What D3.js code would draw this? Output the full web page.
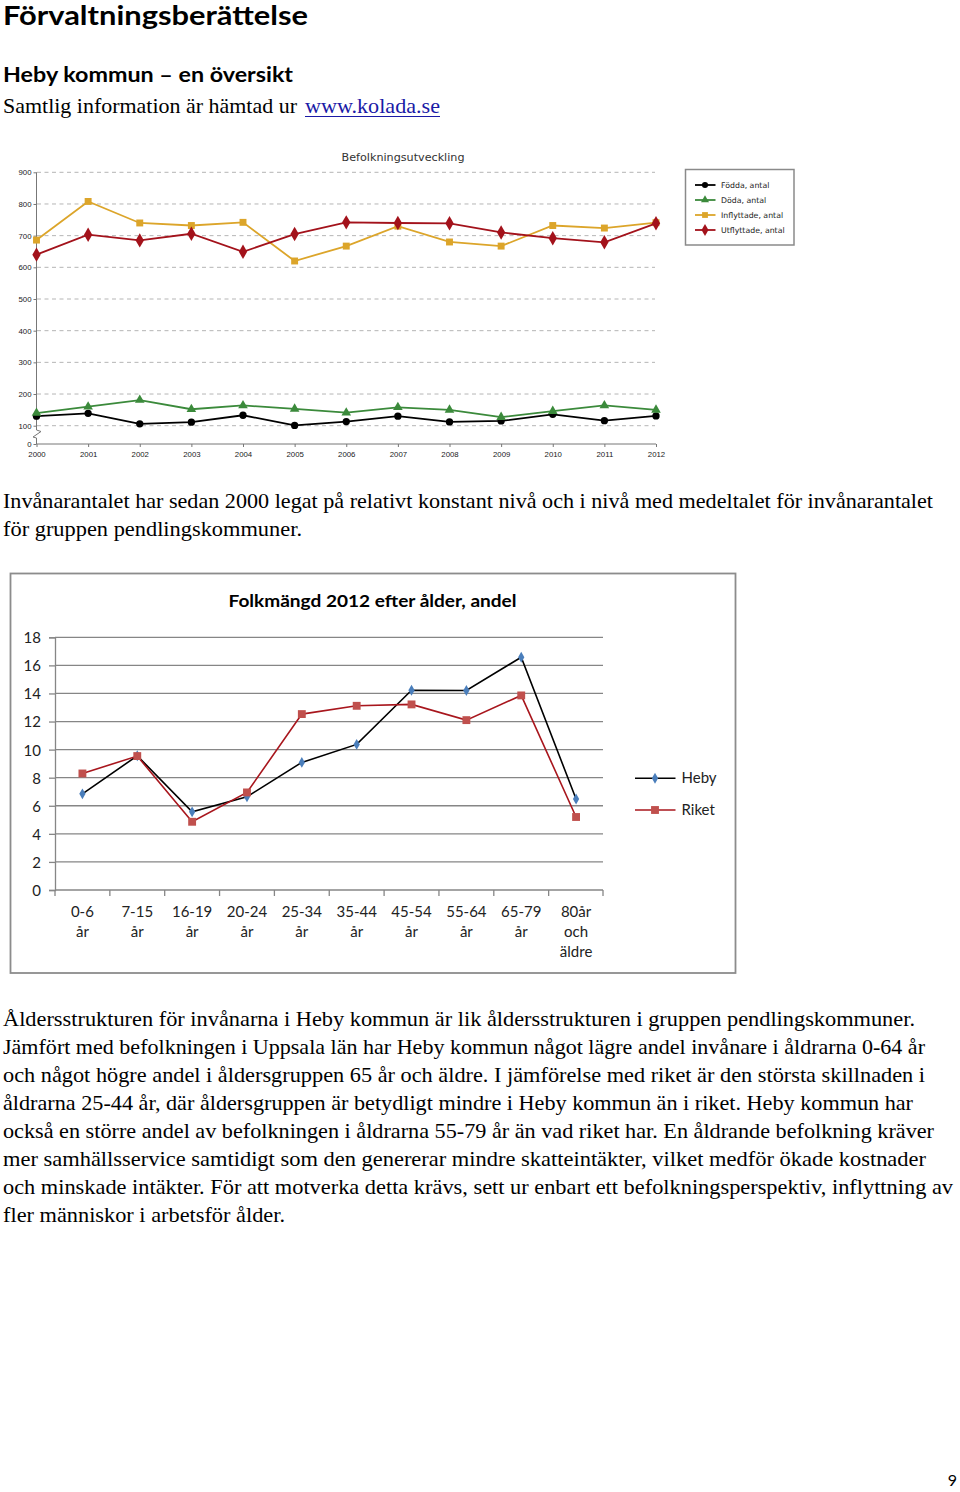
<!DOCTYPE html>
<html><head><meta charset="utf-8">
<script src="https://cdn.jsdelivr.net/npm/d3@7"></script>
<style>body{margin:0;background:#fff}svg{display:block}</style>
</head><body><svg id="c" width="960" height="1492"></svg>
<script>
// ---------- Chart 1 data: Befolkningsutveckling ----------
const years = [2000,2001,2002,2003,2004,2005,2006,2007,2008,2009,2010,2011,2012];
const fodda      = [130,139,106,111,133,101,113,130,112,115,136,116,131];
const doda       = [140,160,181,152,164,153,141,158,150,127,146,164,150];
const inflyttade = [686,808,740,732,742,620,667,730,680,667,732,724,741];
const utflyttade = [640,703,685,706,649,705,742,740,739,710,692,679,739];
const popTicks = [0,100,200,300,400,500,600,700,800,900];
const popSeriesNames = ["Födda, antal","Döda, antal","Inflyttade, antal","Utflyttade, antal"];

// ---------- Chart 2 data: Folkmängd 2012 efter ålder, andel ----------
const ageGroups = [["0-6","år"],["7-15","år"],["16-19","år"],["20-24","år"],["25-34","år"],["35-44","år"],["45-54","år"],["55-64","år"],["65-79","år"],["80år","och","äldre"]];
const heby  = [6.85,9.56,5.57,6.64,9.09,10.37,14.23,14.21,16.58,6.48];
const riket = [8.3,9.54,4.86,6.95,12.53,13.12,13.22,12.1,13.86,5.2];
const shareTicks = [0,2,4,6,8,10,12,14,16,18];
const shareSeriesNames = ["Heby","Riket"];

// ---------- Page text ----------
const para1 = [
  "Invånarantalet har sedan 2000 legat på relativt konstant nivå och i nivå med medeltalet för invånarantalet",
  "för gruppen pendlingskommuner."
];
const para1Ends = [933,302];
const para2 = [
  "Åldersstrukturen för invånarna i Heby kommun är lik åldersstrukturen i gruppen pendlingskommuner.",
  "Jämfört med befolkningen i Uppsala län har Heby kommun något lägre andel invånare i åldrarna 0-64 år",
  "och något högre andel i åldersgruppen 65 år och äldre.  I jämförelse med riket är den största skillnaden i",
  "åldrarna 25-44 år, där åldersgruppen är betydligt mindre i Heby kommun än i riket. Heby kommun har",
  "också en större andel av befolkningen i åldrarna 55-79 år än vad riket har. En åldrande befolkning kräver",
  "mer samhällsservice samtidigt som den genererar mindre skatteintäkter, vilket medför ökade kostnader",
  "och minskade intäkter. För att motverka detta krävs, sett ur enbart ett befolkningsperspektiv, inflyttning av",
  "fler människor i arbetsför ålder."
];
const para2Ends = [915,925,925,913,934,926,953,285];

const svg = d3.select("#c");
const SERIF = "'Liberation Serif','DejaVu Serif',serif";
const SANS = "Lato,'Open Sans','Noto Sans',sans-serif";

function txt(g, x, y, s, o = {}) {
  const t = g.append("text").attr("x", x).attr("y", y).text(s)
    .attr("font-family", o.ff || SERIF).attr("font-size", o.fs || 20)
    .attr("fill", o.fill || "#000");
  if (o.fw) t.attr("font-weight", o.fw);
  if (o.anchor) t.attr("text-anchor", o.anchor);
  if (o.len) t.attr("textLength", o.len).attr("lengthAdjust", "spacingAndGlyphs");
  return t;
}

// Headings
txt(svg, 3, 25, "Förvaltningsberättelse", {ff: SANS, fs: 26, fw: "bold", len: 305});
txt(svg, 3, 82, "Heby kommun – en översikt", {ff: SANS, fs: 21, fw: "bold", len: 290});
txt(svg, 3, 113, "Samtlig information är hämtad ur", {fs: 21, len: 294});
txt(svg, 305, 113, "www.kolada.se", {fs: 21, len: 135, fill: "#1a1aa6"});
svg.append("line").attr("x1", 305).attr("x2", 440).attr("y1", 116.5).attr("y2", 116.5)
  .attr("stroke", "#1a1aa6").attr("stroke-width", 1.2);

para1.forEach((s, i) => txt(svg, 3, 508 + i * 28, s, {fs: 21, len: para1Ends[i] - 3}));
para2.forEach((s, i) => txt(svg, 3, 1026 + i * 28, s, {fs: 21, len: para2Ends[i] - 3}));
txt(svg, 957, 1486, "9", {ff: SANS, fs: 16, anchor: "end"});

// ---------- Chart 1 ----------
{
  const g = svg.append("g");
  const x = d3.scalePoint().domain(years).range([36.5, 656]);
  const y = d3.scaleLinear().domain([0, 100, 900]).range([444, 425.7, 172.3]);
  const F1 = "'Liberation Sans','DejaVu Sans',sans-serif";

  txt(g, 403, 161, "Befolkningsutveckling", {ff: "'DejaVu Sans',sans-serif", fs: 11, fill: "#333", anchor: "middle", len: 123});

  // gridlines
  g.selectAll(".grid").data(popTicks.filter(d => d > 0)).join("line")
    .attr("x1", 37).attr("x2", 655).attr("y1", d => y(d)).attr("y2", d => y(d))
    .attr("stroke", "#b5b5b5").attr("stroke-width", 1).attr("stroke-dasharray", "4,3.5");

  // y axis
  const ya = g.append("g").attr("transform", "translate(36.5,0)")
    .call(d3.axisLeft(y).tickValues(popTicks).tickSize(3).tickPadding(2).tickFormat(d3.format("d")));
  ya.select(".domain").remove();
  ya.selectAll("line").attr("stroke", "#777");
  ya.selectAll("text").attr("font-family", F1).attr("font-size", 7.8).attr("fill", "#222");
  g.append("line").attr("x1", 36.5).attr("x2", 36.5).attr("y1", y(900)).attr("y2", 430)
    .attr("stroke", "#777").attr("stroke-width", 1);
  g.append("line").attr("x1", 36.5).attr("x2", 36.5).attr("y1", 438).attr("y2", 444)
    .attr("stroke", "#777").attr("stroke-width", 1);
  // axis break
  g.append("path").attr("d", "M36.5,430 L41,431.5 L33,437 L36.5,438")
    .attr("fill", "none").attr("stroke", "#777").attr("stroke-width", 1);

  // x axis
  const xa = g.append("g").attr("transform", "translate(0,444)")
    .call(d3.axisBottom(x).tickSize(3).tickPadding(4).tickFormat(d3.format("d")));
  xa.select(".domain").attr("stroke", "#777").attr("d", "M36.5,0H656");
  xa.selectAll("line").attr("stroke", "#777");
  xa.selectAll("text").attr("font-family", F1).attr("font-size", 7.8).attr("fill", "#222");

  const series = [
    {name: popSeriesNames[0], vals: fodda, color: "#000000", sym: d3.symbolCircle, size: 42},
    {name: popSeriesNames[1], vals: doda, color: "#3b8a3b", sym: d3.symbolTriangle, size: 40},
    {name: popSeriesNames[2], vals: inflyttade, color: "#dca52a", sym: d3.symbolSquare, size: 48},
    {name: popSeriesNames[3], vals: utflyttade, color: "#a3121b", sym: d3.symbolDiamond, size: 60}
  ];
  const line = d3.line().x((d, i) => x(years[i])).y(d => y(d));
  series.forEach(s => {
    g.append("path").datum(s.vals).attr("d", line).attr("fill", "none")
      .attr("stroke", s.color).attr("stroke-width", 1.8);
    g.selectAll(null).data(s.vals).join("path")
      .attr("transform", (d, i) => `translate(${x(years[i])},${y(d)})`)
      .attr("d", d3.symbol(s.sym, s.size)).attr("fill", s.color);
  });

  // legend
  const lg = g.append("g");
  lg.append("rect").attr("x", 685.5).attr("y", 169.5).attr("width", 108.5).attr("height", 75.5)
    .attr("fill", "#fff").attr("stroke", "#8a8a8a").attr("stroke-width", 1.5);
  series.forEach((s, i) => {
    const yy = 185 + i * 15;
    lg.append("line").attr("x1", 695).attr("x2", 715.5).attr("y1", yy).attr("y2", yy)
      .attr("stroke", s.color).attr("stroke-width", 1.8);
    lg.append("path").attr("transform", `translate(705,${yy})`)
      .attr("d", d3.symbol(s.sym, s.size * 0.7)).attr("fill", s.color);
    txt(lg, 721, yy + 3, s.name, {ff: "'DejaVu Sans',sans-serif", fs: 7.8, fill: "#222"});
  });
}

// ---------- Chart 2 ----------
{
  const g = svg.append("g");
  g.append("rect").attr("x", 10.5).attr("y", 573.5).attr("width", 725).attr("height", 399.5)
    .attr("fill", "#fff").attr("stroke", "#8c8c8c").attr("stroke-width", 1.8);

  txt(g, 372.5, 606.5, "Folkmängd  2012 efter ålder, andel", {ff: SANS, fs: 17, fw: "bold", anchor: "middle", len: 288});

  const x = d3.scaleBand().domain(ageGroups.map(d => d.join(" "))).range([55, 603.5]);
  const y = d3.scaleLinear().domain([0, 18]).range([890, 637.3]);

  g.selectAll(".grid").data(shareTicks).join("line")
    .attr("x1", 55).attr("x2", 603).attr("y1", d => y(d)).attr("y2", d => y(d))
    .attr("stroke", "#868686").attr("stroke-width", 1.3);

  const ya = g.append("g").attr("transform", "translate(55,0)")
    .call(d3.axisLeft(y).tickValues(shareTicks).tickSize(6).tickPadding(8));
  ya.select(".domain").attr("stroke", "#868686").attr("stroke-width", 1.3);
  ya.selectAll("line").attr("stroke", "#868686").attr("stroke-width", 1.3);
  ya.selectAll("text").attr("font-family", SANS).attr("font-size", 15).attr("fill", "#222")
    .attr("dy", "0.36em");

  // x axis ticks at band boundaries
  const bounds = x.domain().map(d => x(d)).concat([603]);
  g.selectAll(".xt").data(bounds).join("line")
    .attr("x1", d => d).attr("x2", d => d).attr("y1", 890).attr("y2", 896)
    .attr("stroke", "#868686").attr("stroke-width", 1.3);
  const labs = g.selectAll(".xl").data(ageGroups).join("text")
    .attr("font-family", SANS).attr("font-size", 15).attr("fill", "#222").attr("text-anchor", "middle");
  labs.each(function(d) {
    const cx = x(d.join(" ")) + x.bandwidth() / 2;
    d3.select(this).selectAll("tspan").data(d).join("tspan")
      .attr("x", cx).attr("y", (t, i) => 916.5 + i * 20).text(t => t);
  });

  const cx = i => x(ageGroups[i].join(" ")) + x.bandwidth() / 2;
  const line = d3.line().x((d, i) => cx(i)).y(d => y(d));
  const s2 = [
    {name: shareSeriesNames[0], vals: heby, line: "#000000", mark: "#4a7ebb", sym: d3.symbolDiamond, size: 34},
    {name: shareSeriesNames[1], vals: riket, line: "#a8161d", mark: "#c0504d", sym: d3.symbolSquare, size: 62}
  ];
  s2.forEach(s => {
    g.append("path").datum(s.vals).attr("d", line).attr("fill", "none")
      .attr("stroke", s.line).attr("stroke-width", 1.6);
  });
  s2.forEach(s => {
    g.selectAll(null).data(s.vals).join("path")
      .attr("transform", (d, i) => `translate(${cx(i)},${y(d)})`)
      .attr("d", d3.symbol(s.sym, s.size)).attr("fill", s.mark);
  });

  s2.forEach((s, i) => {
    const yy = 778.3 + i * 31.7;
    g.append("line").attr("x1", 635).attr("x2", 675.5).attr("y1", yy).attr("y2", yy)
      .attr("stroke", s.line).attr("stroke-width", 1.6);
    g.append("path").attr("transform", `translate(655,${yy})`)
      .attr("d", d3.symbol(s.sym, s.size)).attr("fill", s.mark);
    txt(g, 681.5, yy + 5, s.name, {ff: SANS, fs: 15, fill: "#222"});
  });
}
</script></body></html>
